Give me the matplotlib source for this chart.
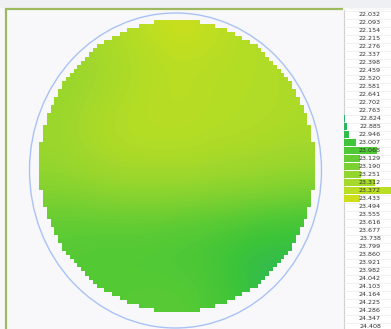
import numpy as np
import matplotlib
matplotlib.use("Agg")
import matplotlib.pyplot as plt
from matplotlib.colors import LinearSegmentedColormap
from matplotlib.patches import Ellipse, Rectangle, PathPatch
from matplotlib.path import Path

# ---- legend bins (thickness, um) ----
bin_values = [22.032, 22.093, 22.154, 22.215, 22.276, 22.337, 22.398, 22.459,
              22.520, 22.581, 22.641, 22.702, 22.763, 22.824, 22.885, 22.946,
              23.007, 23.068, 23.129, 23.190, 23.251, 23.312, 23.372, 23.433,
              23.494, 23.555, 23.616, 23.677, 23.738, 23.799, 23.860, 23.921,
              23.982, 24.042, 24.103, 24.164, 24.225, 24.286, 24.347, 24.408]
bin_counts = [0, 0, 0, 0, 0, 0, 0, 0, 0, 0, 0, 0, 0, 10, 30, 50,
              120, 330, 160, 160, 170, 310, 470, 160,
              0, 0, 0, 0, 0, 0, 0, 0, 0, 0, 0, 0, 0, 0, 0, 0]

# ---- coarse thickness map over the wafer (rows top->bottom, cols left->right) ----
wafer_rows = [
    [23.30, 23.30, 23.32, 23.34, 23.37, 23.41, 23.42, 23.39, 23.36, 23.35, 23.33, 23.32],
    [23.28, 23.28, 23.30, 23.33, 23.35, 23.37, 23.38, 23.37, 23.36, 23.35, 23.34, 23.33],
    [23.27, 23.28, 23.30, 23.33, 23.35, 23.37, 23.37, 23.36, 23.35, 23.35, 23.34, 23.33],
    [23.27, 23.29, 23.32, 23.34, 23.36, 23.37, 23.37, 23.36, 23.35, 23.35, 23.34, 23.33],
    [23.28, 23.30, 23.33, 23.35, 23.36, 23.36, 23.36, 23.35, 23.35, 23.34, 23.33, 23.32],
    [23.27, 23.29, 23.31, 23.33, 23.34, 23.34, 23.34, 23.33, 23.32, 23.31, 23.30, 23.29],
    [23.24, 23.25, 23.27, 23.28, 23.28, 23.28, 23.28, 23.27, 23.26, 23.25, 23.24, 23.23],
    [23.18, 23.18, 23.19, 23.20, 23.20, 23.20, 23.19, 23.18, 23.17, 23.16, 23.15, 23.14],
    [23.12, 23.12, 23.12, 23.12, 23.12, 23.11, 23.10, 23.09, 23.07, 23.05, 23.03, 23.02],
    [23.10, 23.09, 23.08, 23.08, 23.08, 23.07, 23.06, 23.04, 23.00, 22.97, 22.96, 22.96],
    [23.10, 23.09, 23.08, 23.08, 23.08, 23.08, 23.07, 23.05, 23.00, 22.95, 22.93, 22.93],
    [23.10, 23.09, 23.09, 23.09, 23.10, 23.10, 23.09, 23.06, 23.02, 22.97, 22.95, 22.95],
]

vmin, vmax = bin_values[0], bin_values[-1]
anchors = [(22.032, "#2040ff"), (22.500, "#20a8b0"), (22.900, "#2cb55a"),
           (23.000, "#3cc43a"), (23.100, "#58ca34"), (23.200, "#80d230"),
           (23.300, "#a2d82c"), (23.380, "#bcde22"), (23.450, "#d4e018"),
           (23.550, "#eedc10"), (24.000, "#ff9000"), (24.408, "#ff2000")]
cmap = LinearSegmentedColormap.from_list(
    "thk", [((v - vmin) / (vmax - vmin), c) for v, c in anchors])

W, H = 391, 329
fig = plt.figure(figsize=(W / 100, H / 100), dpi=100)
fig.patch.set_facecolor("#f8f8fa")
ax = fig.add_axes([0, 0, 1, 1])
ax.set_xlim(0, W)
ax.set_ylim(H, 0)
ax.axis("off")

# page chrome
ax.add_patch(Rectangle((0, 0), W, 8, color="#eef0f4", lw=0, zorder=0))
ax.plot([5, 343], [8.5, 8.5], color="#9dbb5e", lw=1.6, zorder=5, solid_capstyle="butt")
ax.plot([5.5, 5.5], [8, H], color="#9dbb5e", lw=1.6, zorder=5, solid_capstyle="butt")

# wafer map region, 72 x 72 die grid
mx0, mx1, my0, my1 = 39, 315, 20, 312
ngrid = 72
xs = np.linspace(mx0, mx1, ngrid + 1)
ys = np.linspace(my0, my1, ngrid + 1)
rows_in = []
for i in range(ngrid):
    v = (i + 0.5 - ngrid / 2) / (ngrid / 2)
    inside = [j for j in range(ngrid)
              if ((j + 0.5 - ngrid / 2) / (ngrid / 2)) ** 2 + v ** 2 <= 1.0]
    if inside:
        rows_in.append((i, inside[0], inside[-1]))
verts = []
for i, j0, j1 in rows_in:
    verts += [(xs[j1 + 1], ys[i]), (xs[j1 + 1], ys[i + 1])]
for i, j0, j1 in reversed(rows_in):
    verts += [(xs[j0], ys[i + 1]), (xs[j0], ys[i])]
clip = Path(verts + [verts[0]], closed=True)
clip_patch = PathPatch(clip, transform=ax.transData, fc="none", ec="none")
ax.add_patch(clip_patch)

img = ax.imshow(np.array(wafer_rows), cmap=cmap, vmin=vmin, vmax=vmax,
                extent=(mx0, mx1, my1, my0), interpolation="bicubic",
                aspect="auto", zorder=2)
img.set_clip_path(clip_patch)

# wafer outline
ax.add_patch(Ellipse((175.5, 170.5), 292, 315, fill=False,
                     ec="#a9c2f5", lw=1.0, zorder=3))

# legend panel
ax.add_patch(Rectangle((343.5, 9.5), W - 343.5, H, fc="white", ec="none", zorder=1))
ax.plot([343.5, 343.5], [9.5, H], color="#cfcfcf", lw=0.8, zorder=4)

row_h = 8.0
top = 10.7
lax = fig.add_axes([343.5 / W, (H - (top + row_h * len(bin_values))) / H,
                    (W - 343.5) / W, row_h * len(bin_values) / H])
lax.set_xlim(0, 470)
lax.set_ylim(len(bin_values) - 0.5, -0.5)
lax.axis("off")
lax.patch.set_alpha(0)
pos = np.arange(len(bin_values))
lax.barh(pos, bin_counts, height=0.85, left=0,
         color=cmap((np.array(bin_values) - vmin) / (vmax - vmin)), zorder=1)
for k in range(len(bin_values) + 1):
    lax.axhline(k - 0.5, color="#ececec", lw=0.5, zorder=0)
for k, val in enumerate(bin_values):
    lax.text(0.79, k, f"{val:.3f}", transform=lax.get_yaxis_transform(),
             ha="right", va="center", fontsize=4.6, color="#333333", zorder=3)

fig.savefig("out.png", dpi=100, facecolor=fig.get_facecolor())
